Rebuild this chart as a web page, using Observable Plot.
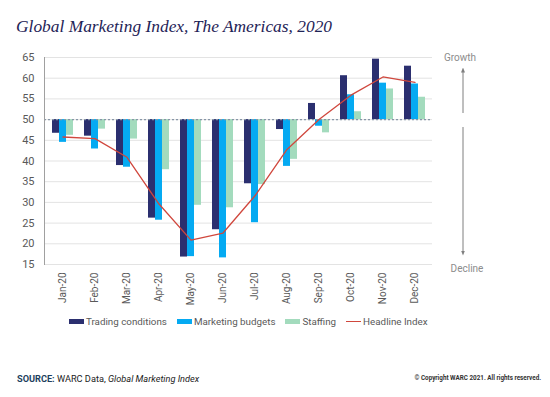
<!DOCTYPE html>
<html>
<head>
<meta charset="utf-8">
<script src="https://cdn.jsdelivr.net/npm/d3@7"></script>
<script src="https://cdn.jsdelivr.net/npm/@observablehq/plot@0.6"></script>
<style>
  html, body { margin: 0; padding: 0; background: #fff; }
  #wrap { position: relative; width: 550px; height: 397px; overflow: hidden; font-family: Roboto, "Liberation Sans", sans-serif; }
  #title { position: absolute; left: 16px; top: 16px; font-family: "Liberation Serif", "DejaVu Serif", serif; font-style: italic; font-size: 17.4px; color: #1f2457; white-space: nowrap; }
  #chart { position: absolute; left: 0; top: 0; }
  #legend { position: absolute; left: 69px; top: 315px; display: flex; align-items: center; font-size: 9.8px; line-height: 13px; color: #595959; white-space: nowrap; }
  #legend .it { display: flex; align-items: center; margin-right: 10px; height: 13px; }
  #legend .sw { width: 15px; height: 5px; margin-right: 2px; }
  #legend .ln { width: 15px; height: 1px; margin-right: 2px; }
  #source { position: absolute; left: 17px; top: 373px; font-size: 9.2px; color: #222; white-space: nowrap; }
  #source b { color: #1d3f5e; }
  #copy { position: absolute; right: 9px; top: 374px; font-size: 6.3px; font-weight: bold; color: #333; white-space: nowrap; }
  #anno { position: absolute; left: 0; top: 0; }
</style>
</head>
<body>
<div id="wrap">
  <div id="chart"></div>
  <div id="title">Global Marketing Index, The Americas, 2020</div>
  <svg id="anno" width="550" height="397">
    <defs>
      <marker id="ah" viewBox="0 0 10 10" refX="5" refY="5" markerWidth="5" markerHeight="5" orient="auto-start-reverse">
        <path d="M0,1 L10,5 L0,9 z" fill="#7f7f7f"/>
      </marker>
    </defs>
    <text x="460" y="61" text-anchor="middle" font-family="Roboto, sans-serif" font-size="10" fill="#8c8c8c">Growth</text>
    <line x1="463" y1="113" x2="463" y2="70" stroke="#7f7f7f" stroke-width="1" marker-end="url(#ah)"/>
    <line x1="463" y1="127" x2="463" y2="253" stroke="#7f7f7f" stroke-width="1" marker-end="url(#ah)"/>
    <text x="467" y="272" text-anchor="middle" font-family="Roboto, sans-serif" font-size="10" fill="#8c8c8c">Decline</text>
  </svg>
  <div id="legend"></div>
  <div id="source"><b>SOURCE:</b> WARC Data, <i>Global Marketing Index</i></div>
  <div id="copy">© Copyright WARC 2021. All rights reserved.</div>
</div>
<script>
const months = ["Jan-20","Feb-20","Mar-20","Apr-20","May-20","Jun-20","Jul-20","Aug-20","Sep-20","Oct-20","Nov-20","Dec-20"];
const trading   = [46.7, 46.0, 38.9, 26.2, 16.8, 23.4, 34.5, 47.6, 53.9, 60.6, 64.6, 62.9];
const marketing = [44.5, 42.9, 38.5, 25.7, 16.9, 16.6, 25.1, 38.7, 48.4, 56.0, 58.8, 58.6];
const staffing  = [46.2, 47.7, 45.3, 37.9, 29.3, 28.7, 34.3, 40.4, 46.8, 51.9, 57.4, 55.4];
const headline  = [45.8, 45.4, 40.9, 29.6, 20.9, 22.6, 31.6, 42.8, 50.0, 55.9, 60.3, 59.0];
const yTicks = [15, 20, 25, 30, 35, 40, 45, 50, 55, 60, 65];
const seriesNames = ["Trading conditions", "Marketing budgets", "Staffing", "Headline Index"];
const colors = ["#2b2f6f", "#05aaf2", "#a3dbbd", "#d0473d"];

const rows = months.map((m, i) => ({month: m, trading: trading[i], marketing: marketing[i], staffing: staffing[i], headline: headline[i]}));

const plot = Plot.plot({
  width: 550,
  height: 310,
  marginTop: 57,
  marginBottom: 46,
  marginLeft: 44,
  marginRight: 118,
  style: {fontFamily: "Roboto, 'Liberation Sans', sans-serif", background: "transparent"},
  x: {type: "band", domain: months, paddingInner: 0.35, paddingOuter: 0.175, axis: null, label: null},
  y: {domain: [15, 65], axis: null, label: null},
  marks: [
    Plot.gridY(yTicks, {stroke: "#e3e3e3", strokeOpacity: 1}),
    Plot.barY(rows, {x: "month", y1: 50, y2: "trading", fill: colors[0], insetRight: 14}),
    Plot.barY(rows, {x: "month", y1: 50, y2: "marketing", fill: colors[1], insetLeft: 7, insetRight: 7}),
    Plot.barY(rows, {x: "month", y1: 50, y2: "staffing", fill: colors[2], insetLeft: 14}),
    Plot.ruleY([50], {stroke: "#8796a8", strokeWidth: 1.2, strokeDasharray: "2,2"}),
    Plot.line(rows, {x: "month", y: "headline", stroke: colors[3], strokeWidth: 1.3}),
    Plot.frame({anchor: "left", stroke: "#a0a0a0"}),
    Plot.axisY({ticks: yTicks, tickSize: 0, tickPadding: 10, fontSize: 11, fill: "#595959", label: null}),
    Plot.axisX({tickRotate: -90, tickSize: 0, tickPadding: 8, fontSize: 10, fill: "#595959", label: null})
  ]
});
document.getElementById("chart").appendChild(plot);

const legend = document.getElementById("legend");
seriesNames.forEach((name, i) => {
  const it = document.createElement("div");
  it.className = "it";
  const sw = document.createElement("div");
  sw.className = i === 3 ? "ln" : "sw";
  sw.style.background = colors[i];
  const tx = document.createElement("span");
  tx.textContent = name;
  it.appendChild(sw);
  it.appendChild(tx);
  legend.appendChild(it);
});
</script>
</body>
</html>
